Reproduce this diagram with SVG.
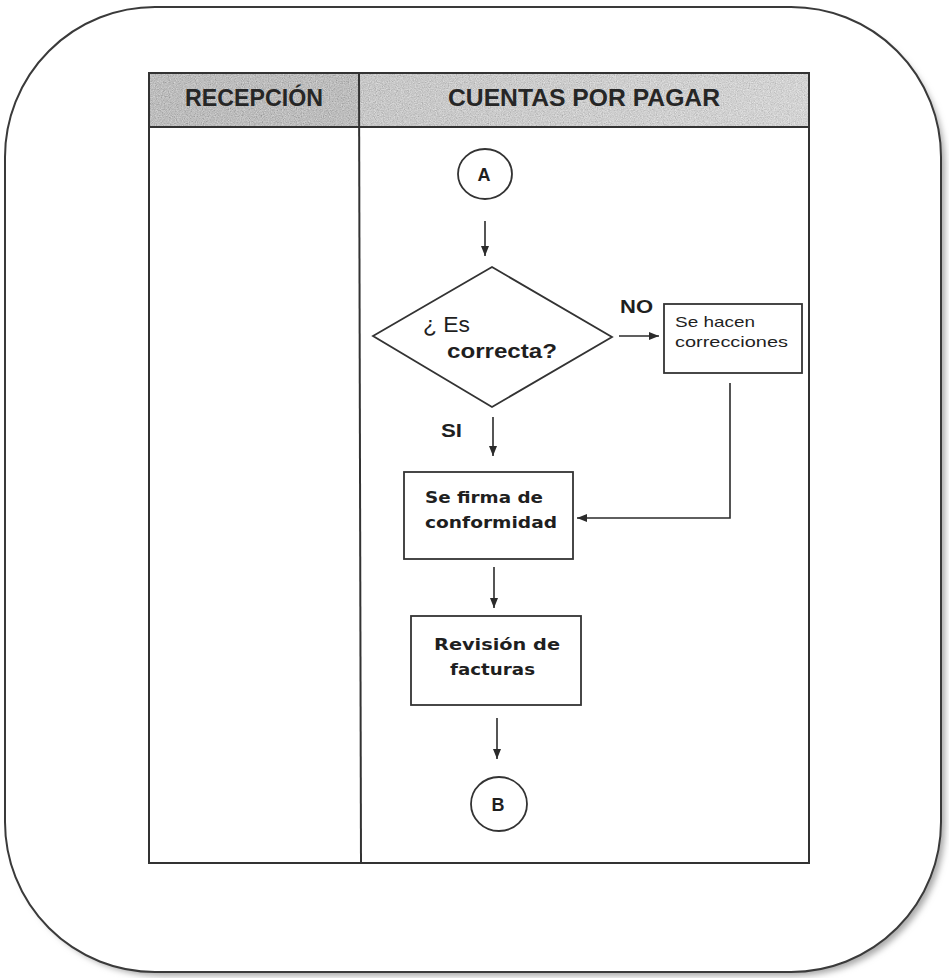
<svg xmlns="http://www.w3.org/2000/svg" width="949" height="978" viewBox="0 0 949 978">
  <style>
    .frame { fill: #ffffff; stroke: #3a3a3a; stroke-width: 2; }
    .grid { fill: none; stroke: #333333; stroke-width: 2; }
    .shape { fill: #ffffff; stroke: #333333; stroke-width: 1.8; }
    .conn { fill: none; stroke: #2b2b2b; stroke-width: 1.6; }
    .hdr { font-family: "Liberation Sans", Arial, sans-serif; font-weight: bold; font-size: 24px; fill: #262626; text-anchor: middle; }
    .lbl { font-family: "DejaVu Sans", "Liberation Sans", sans-serif; font-weight: bold; font-size: 16px; fill: #1f1f1f; }
    .thin { font-family: "Liberation Sans", Arial, sans-serif; font-size: 15px; fill: #1f1f1f; }
    .tag { font-family: "Liberation Sans", Arial, sans-serif; font-weight: bold; font-size: 19px; fill: #1f1f1f; }
    .ltr { font-family: "Liberation Sans", Arial, sans-serif; font-weight: bold; font-size: 18px; fill: #1f1f1f; text-anchor: middle; }
  </style>
  <defs>
    <marker id="arrow" viewBox="0 0 10 10" refX="10" refY="5" markerWidth="10" markerHeight="10" markerUnits="userSpaceOnUse" orient="auto">
      <path d="M0,1 L10,5 L0,9 Z" fill="#2b2b2b"/>
    </marker>
    <filter id="shadow" x="-5%" y="-5%" width="110%" height="110%">
      <feGaussianBlur stdDeviation="3"/>
    </filter>
    <filter id="grain" x="0" y="0" width="100%" height="100%">
      <feTurbulence type="fractalNoise" baseFrequency="0.85" numOctaves="2" seed="7" result="noise"/>
      <feColorMatrix in="noise" type="matrix" values="0.6 0.6 0.6 0 -0.4  0.6 0.6 0.6 0 -0.4  0.6 0.6 0.6 0 -0.4  0 0 0 0 0.45" result="gray"/>
      <feComposite in="gray" in2="SourceGraphic" operator="in" result="clip"/>
      <feMerge>
        <feMergeNode in="SourceGraphic"/>
        <feMergeNode in="clip"/>
      </feMerge>
    </filter>
    <linearGradient id="hdrRight" x1="0" y1="0" x2="1" y2="0">
      <stop offset="0" stop-color="#cfcfcf"/>
      <stop offset="1" stop-color="#e4e4e4"/>
    </linearGradient>
  </defs>

  <rect width="949" height="978" fill="#ffffff"/>

  <!-- rounded page frame with soft shadow toward the lower right -->
  <g id="frame">
    <rect x="11" y="14" width="934" height="962" rx="150" ry="150" fill="#a8a8a8" filter="url(#shadow)"/>
    <rect class="frame" x="5" y="7" width="936" height="965" rx="150" ry="150"/>
  </g>

  <!-- swimlane table -->
  <g id="lanes">
    <rect x="149" y="73" width="211" height="54" fill="#bdbdbd" filter="url(#grain)"/>
    <rect x="360" y="73" width="449" height="54" fill="url(#hdrRight)" filter="url(#grain)"/>
    <rect class="grid" x="149" y="73" width="660" height="790"/>
    <line class="grid" x1="149" y1="127" x2="809" y2="127"/>
    <line class="grid" x1="359" y1="73" x2="361" y2="863"/>
    <text class="hdr" x="254" y="106" textLength="138" lengthAdjust="spacingAndGlyphs">RECEPCIÓN</text>
    <text class="hdr" x="584" y="106" textLength="272" lengthAdjust="spacingAndGlyphs">CUENTAS POR PAGAR</text>
  </g>

  <!-- connectors -->
  <g id="connectors">
    <line class="conn" x1="485" y1="221" x2="485" y2="256" marker-end="url(#arrow)"/>
    <line class="conn" x1="619" y1="336" x2="659" y2="336" marker-end="url(#arrow)"/>
    <line class="conn" x1="493" y1="417" x2="493" y2="456" marker-end="url(#arrow)"/>
    <polyline class="conn" points="730,383 730,518 577,518" marker-end="url(#arrow)"/>
    <line class="conn" x1="494" y1="567" x2="494" y2="608" marker-end="url(#arrow)"/>
    <line class="conn" x1="497" y1="718" x2="497" y2="759" marker-end="url(#arrow)"/>
    <text class="tag" x="620" y="313" textLength="33" lengthAdjust="spacingAndGlyphs">NO</text>
    <text class="tag" x="441" y="437" textLength="21" lengthAdjust="spacingAndGlyphs">SI</text>
  </g>

  <g id="node-a">
    <ellipse class="shape" cx="485" cy="174" rx="27" ry="25"/>
    <text class="ltr" x="484" y="181">A</text>
  </g>

  <g id="node-decision">
    <polygon class="shape" points="373,336 492,267 612,337 492,407"/>
    <text x="423" y="332" font-family="'Liberation Sans', Arial, sans-serif" font-size="22" fill="#1f1f1f" textLength="47" lengthAdjust="spacingAndGlyphs">¿ Es</text>
    <text x="447" y="358" font-family="'Liberation Sans', Arial, sans-serif" font-weight="bold" font-size="21" fill="#1f1f1f" textLength="110" lengthAdjust="spacingAndGlyphs">correcta?</text>
  </g>

  <g id="node-corrections">
    <rect class="shape" x="664" y="304" width="138" height="69"/>
    <text class="thin" x="675" y="327" textLength="80" lengthAdjust="spacingAndGlyphs">Se hacen</text>
    <text class="thin" x="675" y="347" textLength="113" lengthAdjust="spacingAndGlyphs">correcciones</text>
  </g>

  <g id="node-sign">
    <rect class="shape" x="404" y="472" width="169" height="87"/>
    <text class="lbl" x="425" y="503" textLength="118" lengthAdjust="spacingAndGlyphs">Se firma de</text>
    <text class="lbl" x="425" y="528" textLength="132" lengthAdjust="spacingAndGlyphs">conformidad</text>
  </g>

  <g id="node-review">
    <rect class="shape" x="411" y="616" width="170" height="89"/>
    <text class="lbl" x="434" y="650" textLength="126" lengthAdjust="spacingAndGlyphs">Revisión de</text>
    <text class="lbl" x="450" y="675" textLength="85" lengthAdjust="spacingAndGlyphs">facturas</text>
  </g>

  <g id="node-b">
    <ellipse class="shape" cx="499" cy="804" rx="28" ry="27"/>
    <text class="ltr" x="498" y="811">B</text>
  </g>
</svg>
